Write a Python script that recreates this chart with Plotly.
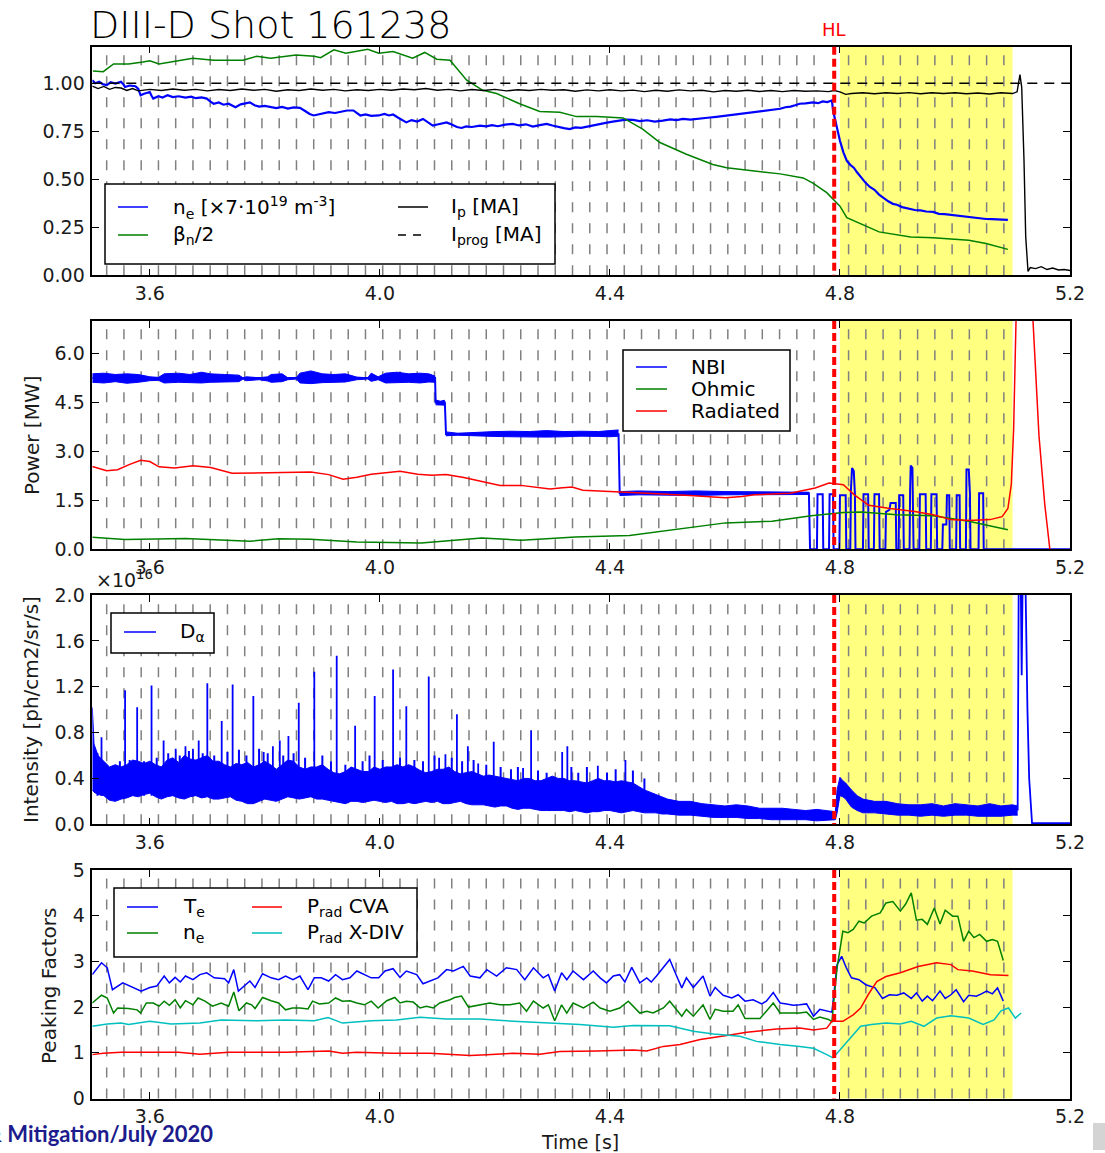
import plotly.graph_objects as go

W, H = 1105, 1153

# ----------------------------- DATA -----------------------------
X_TICKS = [3.6, 4.0, 4.4, 4.8, 5.2]
HL_TIME = 4.79
MITIGATION_WINDOW = (4.80, 5.10)
# Thomson / diagnostic time markers (grey dashed lines)
MARK_T = [3.525, 3.555, 3.585, 3.615, 3.645, 3.675, 3.705, 3.735, 3.765, 3.795,
          3.825, 3.855, 3.885, 3.915, 3.945, 3.975, 4.005, 4.035, 4.065, 4.095,
          4.125, 4.155, 4.185, 4.215, 4.245, 4.275, 4.305, 4.335, 4.365, 4.395,
          4.425, 4.455, 4.485, 4.515, 4.545, 4.575, 4.605, 4.635, 4.665, 4.695,
          4.725, 4.755, 4.815, 4.845, 4.875, 4.905, 4.935, 4.965, 4.995,
          5.025, 5.055, 5.085]

# Panel 1: ne [x7e19 m^-3], beta_n/2, Ip, Iprog
NE = [(3.500,1.016),(3.505,1.000),(3.512,1.008),(3.518,0.995),(3.525,0.990),(3.532,1.005),
      (3.540,0.998),(3.550,1.007),(3.555,0.990),(3.557,0.980),(3.565,0.988),(3.575,0.984),
      (3.580,0.970),(3.584,0.937),(3.590,0.945),(3.600,0.954),(3.603,0.935),(3.606,0.920),
      (3.615,0.932),(3.622,0.925),(3.631,0.937),(3.640,0.928),(3.650,0.932),(3.662,0.925),
      (3.672,0.930),(3.680,0.922),(3.690,0.926),(3.699,0.920),(3.705,0.905),(3.711,0.893),
      (3.720,0.900),(3.728,0.888),(3.737,0.893),(3.743,0.882),(3.749,0.875),(3.758,0.890),
      (3.766,0.895),(3.774,0.900),(3.782,0.885),(3.790,0.878),(3.800,0.882),(3.810,0.875),
      (3.820,0.870),(3.830,0.877),(3.840,0.868),(3.850,0.874),(3.861,0.872),(3.870,0.855),
      (3.878,0.840),(3.885,0.832),(3.893,0.838),(3.902,0.845),(3.911,0.849),(3.922,0.845),
      (3.932,0.852),(3.943,0.858),(3.954,0.858),(3.960,0.845),(3.966,0.832),(3.975,0.838),
      (3.985,0.830),(3.998,0.832),(4.008,0.840),(4.016,0.832),(4.023,0.837),(4.032,0.820),
      (4.040,0.805),(4.046,0.796),(4.055,0.808),(4.065,0.800),(4.075,0.814),(4.083,0.798),
      (4.092,0.779),(4.100,0.785),(4.108,0.790),(4.116,0.796),(4.125,0.785),(4.134,0.772),
      (4.142,0.767),(4.150,0.775),(4.160,0.772),(4.174,0.779),(4.185,0.775),(4.195,0.782),
      (4.205,0.776),(4.218,0.784),(4.231,0.788),(4.242,0.780),(4.254,0.786),(4.266,0.774),
      (4.278,0.782),(4.290,0.788),(4.300,0.780),(4.310,0.772),(4.320,0.766),(4.330,0.761),
      (4.340,0.770),(4.350,0.768),(4.359,0.774),(4.370,0.780),(4.383,0.788),(4.395,0.795),
      (4.405,0.800),(4.417,0.805),(4.428,0.810),(4.440,0.809),(4.452,0.803),(4.465,0.807),
      (4.478,0.800),(4.492,0.805),(4.505,0.812),(4.516,0.808),(4.527,0.814),(4.540,0.810),
      (4.557,0.814),(4.570,0.820),(4.585,0.825),(4.603,0.832),(4.615,0.836),(4.627,0.842),
      (4.638,0.845),(4.649,0.849),(4.660,0.855),(4.672,0.858),(4.684,0.862),(4.696,0.867),
      (4.705,0.875),(4.714,0.878),(4.722,0.885),(4.730,0.893),(4.740,0.895),(4.753,0.900),
      (4.762,0.896),(4.770,0.905),(4.778,0.902),(4.786,0.910),(4.788,0.858),(4.794,0.780),
      (4.800,0.700),(4.806,0.640),(4.812,0.595),(4.818,0.575),(4.824,0.560),(4.830,0.535),
      (4.837,0.507),(4.845,0.480),(4.852,0.460),(4.860,0.445),(4.868,0.420),(4.876,0.400),
      (4.884,0.385),(4.892,0.372),(4.899,0.367),(4.908,0.355),(4.918,0.348),(4.930,0.340),
      (4.940,0.338),(4.950,0.332),(4.962,0.330),(4.972,0.320),(4.982,0.318),(4.993,0.314),
      (5.003,0.310),(5.013,0.308),(5.024,0.305),(5.034,0.300),(5.044,0.297),(5.054,0.293),
      (5.064,0.292),(5.074,0.290),(5.083,0.290),(5.092,0.288)]
BETA = [(3.501,1.063),(3.519,1.060),(3.537,1.100),(3.563,1.100),(3.588,1.110),(3.600,1.117),
        (3.616,1.100),(3.637,1.110),(3.675,1.130),(3.711,1.120),(3.762,1.120),(3.786,1.140),
        (3.810,1.130),(3.854,1.147),(3.886,1.140),(3.897,1.133),(3.920,1.174),(3.941,1.156),
        (3.979,1.177),(3.998,1.156),(4.023,1.165),(4.057,1.130),(4.078,1.160),(4.099,1.125),
        (4.122,1.120),(4.151,1.016),(4.179,0.963),(4.203,0.946),(4.243,0.893),(4.278,0.853),
        (4.313,0.849),(4.342,0.826),(4.377,0.826),(4.423,0.819),(4.457,0.761),(4.487,0.691),
        (4.533,0.630),(4.579,0.577),(4.603,0.560),(4.666,0.538),(4.696,0.528),(4.736,0.507),
        (4.753,0.480),(4.777,0.430),(4.800,0.360),(4.812,0.300),(4.868,0.226),(4.923,0.200),
        (4.962,0.195),(5.024,0.182),(5.054,0.165),(5.092,0.135)]
IP = [(3.50,0.985),(3.51,0.972),(3.52,0.983),(3.53,0.968),(3.54,0.978),(3.55,0.975),(3.56,0.962),
      (3.57,0.972),(3.58,0.960),(3.60,0.968),(3.62,0.962),(3.64,0.970),(3.66,0.963),(3.68,0.968),
      (3.70,0.960),(3.72,0.967),(3.74,0.962),(3.76,0.970),(3.78,0.963),(3.80,0.968),(3.82,0.958),
      (3.84,0.966),(3.86,0.962),(3.88,0.970),(3.90,0.963),(3.92,0.968),(3.94,0.960),(3.96,0.966),
      (3.98,0.962),(4.00,0.968),(4.02,0.963),(4.04,0.970),(4.06,0.966),(4.08,0.972),(4.10,0.963),
      (4.12,0.968),(4.14,0.960),(4.16,0.967),(4.18,0.962),(4.20,0.968),(4.22,0.960),(4.24,0.966),
      (4.26,0.962),(4.28,0.968),(4.30,0.963),(4.32,0.966),(4.34,0.958),(4.36,0.965),(4.38,0.960),
      (4.40,0.966),(4.42,0.960),(4.44,0.964),(4.46,0.956),(4.48,0.963),(4.50,0.958),(4.52,0.965),
      (4.54,0.960),(4.56,0.963),(4.58,0.955),(4.60,0.962),(4.62,0.958),(4.64,0.963),(4.66,0.957),
      (4.68,0.962),(4.70,0.956),(4.72,0.962),(4.74,0.958),(4.76,0.960),(4.78,0.956),(4.79,0.962),
      (4.80,0.955),(4.81,0.942),(4.82,0.946),(4.84,0.950),(4.86,0.945),(4.88,0.950),(4.90,0.946),
      (4.92,0.951),(4.94,0.945),(4.96,0.950),(4.98,0.946),(5.00,0.950),(5.02,0.945),(5.04,0.949),
      (5.06,0.944),(5.08,0.950),(5.10,0.946),(5.108,0.955),(5.113,1.045),(5.116,0.980),
      (5.120,0.600),(5.123,0.200),(5.127,0.020),(5.131,0.040),(5.14,0.035),(5.15,0.045),
      (5.16,0.030),(5.17,0.038),(5.18,0.028),(5.19,0.030),(5.20,0.025)]
IPROG = [(3.50,1.0),(5.20,1.0)]

# Panel 2: Power [MW]
NBI = [(3.500,5.25),(4.096,5.25),(4.097,4.50),(4.113,4.50),(4.115,3.53),(4.415,3.53),(4.417,1.72),
       (4.746,1.72),(4.748,0.0),(4.760,0.0),(4.761,1.69),(4.770,1.69),(4.771,0.0),(4.781,0.0),
       (4.782,1.69),(4.788,1.69),(4.789,0.0),(4.799,0.0),(4.800,1.66),(4.810,1.66),(4.811,0.0),
       (4.818,0.0),(4.819,1.80),(4.821,2.49),(4.824,2.40),(4.826,1.70),(4.827,0.0),(4.840,0.0),
       (4.841,1.69),(4.849,1.69),(4.850,0.0),(4.859,0.0),(4.860,1.69),(4.868,1.69),(4.869,0.0),
       (4.879,0.0),(4.880,1.15),(4.886,1.21),(4.888,1.42),(4.897,1.42),(4.898,0.0),(4.902,0.0),
       (4.903,1.66),(4.910,1.66),(4.911,0.0),(4.921,0.0),(4.922,1.80),(4.923,2.57),(4.926,2.50),
       (4.927,1.66),(4.928,0.0),(4.938,0.0),(4.939,1.69),(4.949,1.69),(4.950,0.0),(4.958,0.0),
       (4.959,1.69),(4.968,1.69),(4.969,0.0),(4.978,0.0),(4.979,0.76),(4.985,0.76),(4.986,1.66),
       (4.990,1.66),(4.991,0.0),(5.002,0.0),(5.003,1.66),(5.008,1.66),(5.009,0.0),(5.019,0.0),
       (5.020,2.45),(5.024,2.45),(5.026,1.70),(5.027,0.0),(5.041,0.0),(5.042,1.72),(5.049,1.72),
       (5.050,0.0),(5.200,0.0)]
# NBI fluctuation envelopes (t, low, high)
NBI_BAND_1 = [(3.500,5.12,5.38),(3.520,5.10,5.40),(3.540,5.14,5.36),(3.560,5.09,5.38),(3.580,5.12,5.36),
              (3.600,5.17,5.29),(3.615,5.18,5.27),(3.625,5.10,5.38),(3.650,5.12,5.40),(3.670,5.11,5.36),
              (3.690,5.10,5.43),(3.705,5.12,5.38),(3.730,5.12,5.36),(3.755,5.14,5.34),(3.762,5.22,5.26),
              (3.768,5.17,5.29),(3.790,5.20,5.26),(3.805,5.16,5.29),(3.811,5.12,5.36),(3.830,5.14,5.38),
              (3.840,5.20,5.26),(3.855,5.22,5.27),(3.861,5.10,5.40),(3.880,5.08,5.47),(3.900,5.11,5.38),
              (3.920,5.12,5.36),(3.940,5.13,5.38),(3.960,5.20,5.28),(3.979,5.22,5.26),(3.985,5.15,5.40),
              (3.997,5.20,5.29),(4.010,5.10,5.40),(4.030,5.11,5.43),(4.050,5.12,5.38),(4.070,5.10,5.40),
              (4.085,5.13,5.38),(4.096,5.12,5.31)]
NBI_BAND_2 = [(4.097,4.43,4.58),(4.105,4.42,4.54),(4.113,4.42,4.57)]
NBI_BAND_3 = [(4.115,3.48,3.60),(4.125,3.49,3.57),(4.135,3.50,3.56),(4.150,3.49,3.57),(4.170,3.47,3.59),
              (4.200,3.46,3.61),(4.230,3.45,3.62),(4.260,3.44,3.61),(4.290,3.44,3.64),(4.320,3.45,3.61),
              (4.350,3.47,3.62),(4.380,3.46,3.61),(4.400,3.45,3.64),(4.415,3.47,3.66)]
NBI_BAND_4 = [(4.417,1.65,1.77),(4.450,1.67,1.79),(4.500,1.66,1.77),(4.550,1.65,1.79),(4.600,1.67,1.77),
              (4.650,1.68,1.76),(4.700,1.68,1.76),(4.746,1.68,1.75)]
OHMIC = [(3.500,0.37),(3.557,0.30),(3.662,0.33),(3.774,0.25),(3.824,0.32),(3.879,0.31),(3.960,0.22),
         (4.072,0.19),(4.177,0.35),(4.246,0.28),(4.290,0.32),(4.340,0.38),(4.434,0.42),(4.527,0.65),
         (4.601,0.81),(4.682,0.86),(4.750,1.03),(4.806,1.13),(4.837,1.14),(4.899,1.06),(4.962,1.03),
         (5.024,0.86),(5.092,0.60)]
RADIATED = [(3.500,2.54),(3.525,2.41),(3.544,2.44),(3.563,2.59),(3.584,2.73),(3.600,2.69),(3.616,2.53),
            (3.643,2.49),(3.675,2.56),(3.706,2.51),(3.743,2.33),(3.774,2.34),(3.836,2.34),(3.880,2.37),
            (3.911,2.29),(3.936,2.15),(3.960,2.21),(3.985,2.30),(4.035,2.39),(4.066,2.30),(4.090,2.27),
            (4.115,2.29),(4.146,2.20),(4.177,2.08),(4.209,1.96),(4.245,1.96),(4.271,1.91),(4.296,1.85),
            (4.313,1.88),(4.334,1.91),(4.353,1.81),(4.402,1.78),(4.465,1.72),(4.539,1.65),(4.575,1.60),
            (4.601,1.58),(4.630,1.62),(4.651,1.67),(4.713,1.72),(4.757,1.88),(4.781,2.03),(4.792,2.00),
            (4.806,1.98),(4.825,1.67),(4.850,1.35),(4.887,1.25),(4.930,1.16),(4.962,1.06),(4.993,0.91),
            (5.024,0.88),(5.061,0.91),(5.082,1.00),(5.092,1.25),(5.098,2.00),(5.102,3.70),(5.106,6.90),
            (5.120,14.0),(5.136,6.90),(5.146,3.50),(5.156,1.40),(5.165,0.0)]

# Panel 3: D-alpha intensity [1e16 ph/cm2/sr/s]
DA_BAND = [(3.500,0.30,1.02),(3.503,0.28,0.70),(3.510,0.26,0.60),(3.520,0.25,0.55),(3.530,0.21,0.50),
           (3.540,0.20,0.52),(3.550,0.22,0.50),(3.560,0.23,0.52),(3.570,0.25,0.56),(3.580,0.24,0.55),
           (3.590,0.26,0.53),(3.600,0.27,0.55),(3.610,0.24,0.52),(3.620,0.22,0.50),(3.630,0.24,0.56),
           (3.640,0.25,0.58),(3.650,0.23,0.54),(3.660,0.22,0.60),(3.670,0.24,0.57),(3.680,0.25,0.56),
           (3.690,0.23,0.58),(3.700,0.24,0.60),(3.710,0.22,0.55),(3.720,0.22,0.55),(3.730,0.23,0.52),
           (3.740,0.24,0.50),(3.750,0.21,0.53),(3.760,0.20,0.52),(3.770,0.18,0.54),(3.780,0.18,0.50),
           (3.790,0.20,0.52),(3.800,0.22,0.55),(3.810,0.21,0.52),(3.820,0.20,0.48),(3.830,0.22,0.52),
           (3.840,0.24,0.56),(3.850,0.23,0.55),(3.860,0.22,0.50),(3.870,0.23,0.48),(3.880,0.24,0.50),
           (3.890,0.22,0.50),(3.900,0.22,0.52),(3.910,0.21,0.48),(3.920,0.20,0.45),(3.930,0.19,0.44),
           (3.940,0.18,0.46),(3.950,0.20,0.50),(3.960,0.20,0.48),(3.970,0.19,0.46),(3.980,0.20,0.46),
           (3.990,0.21,0.50),(4.000,0.20,0.48),(4.010,0.19,0.50),(4.020,0.20,0.50),(4.030,0.18,0.52),
           (4.040,0.18,0.50),(4.050,0.19,0.52),(4.060,0.18,0.50),(4.070,0.19,0.47),(4.080,0.20,0.45),
           (4.090,0.19,0.46),(4.100,0.20,0.48),(4.110,0.18,0.48),(4.120,0.18,0.50),(4.130,0.19,0.46),
           (4.140,0.20,0.44),(4.150,0.18,0.45),(4.160,0.17,0.46),(4.170,0.17,0.44),(4.180,0.17,0.42),
           (4.190,0.16,0.43),(4.200,0.15,0.42),(4.210,0.16,0.41),(4.220,0.16,0.40),(4.230,0.14,0.39),
           (4.240,0.13,0.38),(4.250,0.14,0.40),(4.260,0.14,0.40),(4.270,0.13,0.38),(4.280,0.12,0.38),
           (4.290,0.12,0.40),(4.300,0.12,0.42),(4.310,0.12,0.40),(4.320,0.12,0.40),(4.330,0.11,0.38),
           (4.340,0.12,0.38),(4.350,0.11,0.37),(4.360,0.10,0.36),(4.370,0.11,0.38),(4.380,0.11,0.40),
           (4.390,0.12,0.38),(4.400,0.12,0.38),(4.410,0.11,0.37),(4.420,0.10,0.38),(4.430,0.11,0.37),
           (4.440,0.12,0.36),(4.450,0.11,0.33),(4.460,0.10,0.30),(4.470,0.10,0.28),(4.480,0.10,0.26),
           (4.490,0.09,0.24),(4.500,0.09,0.22),(4.520,0.08,0.20),(4.540,0.08,0.20),(4.560,0.07,0.18),
           (4.580,0.06,0.17),(4.600,0.06,0.16),(4.620,0.06,0.17),(4.640,0.05,0.16),(4.660,0.05,0.14),
           (4.680,0.04,0.14),(4.700,0.04,0.14),(4.720,0.04,0.13),(4.740,0.04,0.12),(4.760,0.03,0.13),
           (4.780,0.04,0.12),(4.792,0.04,0.11),(4.795,0.10,0.30),(4.800,0.25,0.41),(4.805,0.24,0.38),
           (4.810,0.22,0.36),(4.820,0.15,0.30),(4.830,0.12,0.25),(4.840,0.10,0.22),(4.860,0.10,0.20),
           (4.880,0.09,0.20),(4.900,0.08,0.18),(4.920,0.08,0.17),(4.940,0.07,0.17),(4.960,0.08,0.18),
           (4.980,0.07,0.16),(5.000,0.08,0.18),(5.020,0.08,0.17),(5.040,0.07,0.16),(5.060,0.07,0.18),
           (5.080,0.07,0.16),(5.100,0.08,0.17),(5.109,0.08,0.16)]
# large ELM spikes
DA_SPIKE_T = [3.516, 3.557, 3.578, 3.603, 3.624, 3.645, 3.662, 3.675, 3.685, 3.700, 3.725, 3.744,
              3.780, 3.798, 3.814, 3.826, 3.841, 3.859, 3.886, 3.925, 3.957, 3.991, 4.023, 4.046,
              4.085, 4.103, 4.114, 4.134, 4.153, 4.171, 4.198, 4.249, 4.263, 4.303, 4.317, 4.326,
              4.379, 4.427]
DA_SPIKE_PEAK = [0.76, 1.17, 1.02, 1.21, 0.73, 0.66, 0.68, 0.66, 0.73, 1.23, 0.90, 1.22,
                 1.12, 0.63, 0.68, 0.73, 0.77, 1.06, 1.33, 1.47, 0.86, 1.12, 1.35, 1.03,
                 1.29, 0.58, 0.61, 0.96, 0.68, 0.53, 0.72, 0.49, 0.82, 0.41, 0.63, 0.68,
                 0.51, 0.56]
# small spikes on top of the fluctuation band
DA_SMALL_T = [3.509, 3.535, 3.548, 3.565, 3.590, 3.612, 3.632, 3.652, 3.668, 3.692, 3.712, 3.735,
              3.755, 3.768, 3.790, 3.805, 3.832, 3.850, 3.870, 3.900, 3.915, 3.940, 3.970, 3.982,
              4.005, 4.035, 4.060, 4.075, 4.095, 4.125, 4.143, 4.163, 4.185, 4.210, 4.228, 4.240,
              4.275, 4.290, 4.333, 4.345, 4.360, 4.395, 4.410, 4.440, 4.460]
DA_SMALL_PEAK = [0.62, 0.50, 0.55, 0.56, 0.55, 0.58, 0.62, 0.60, 0.64, 0.62, 0.60, 0.63,
                 0.65, 0.60, 0.66, 0.62, 0.60, 0.62, 0.58, 0.60, 0.55, 0.52, 0.55, 0.60,
                 0.56, 0.58, 0.56, 0.55, 0.60, 0.58, 0.55, 0.56, 0.52, 0.50, 0.48, 0.50,
                 0.47, 0.45, 0.50, 0.45, 0.50, 0.45, 0.48, 0.47, 0.40]
DA_SPIKE_BASE = 0.25
DA_END = [(5.109,0.12),(5.111,2.3),(5.114,2.3),(5.116,1.3),(5.118,2.3),(5.122,2.3),(5.126,1.0),
          (5.129,0.4),(5.134,0.01),(5.200,0.01)]

# Panel 4: peaking factors
TE = [(3.500,2.71),(3.516,2.97),(3.526,2.86),(3.535,2.38),(3.553,2.53),(3.585,2.35),(3.600,2.43),
      (3.612,2.46),(3.625,2.68),(3.634,2.53),(3.644,2.65),(3.653,2.55),(3.662,2.68),(3.675,2.60),
      (3.687,2.71),(3.699,2.75),(3.712,2.64),(3.730,2.62),(3.737,2.53),(3.746,2.82),(3.754,2.35),
      (3.768,2.50),(3.774,2.57),(3.783,2.43),(3.796,2.73),(3.811,2.64),(3.824,2.60),(3.836,2.68),
      (3.849,2.60),(3.861,2.68),(3.875,2.38),(3.886,2.64),(3.898,2.64),(3.911,2.57),(3.923,2.71),
      (3.935,2.60),(3.948,2.64),(3.960,2.79),(3.973,2.71),(3.985,2.64),(3.998,2.64),(4.009,2.79),
      (4.023,2.84),(4.035,2.65),(4.046,2.79),(4.058,2.73),(4.064,2.71),(4.075,2.51),(4.093,2.60),
      (4.101,2.64),(4.116,2.82),(4.128,2.79),(4.145,2.89),(4.157,2.68),(4.174,2.64),(4.186,2.82),
      (4.203,2.68),(4.220,2.86),(4.238,2.82),(4.252,2.60),(4.267,2.86),(4.284,2.64),(4.293,2.71),
      (4.304,2.35),(4.316,2.75),(4.325,2.60),(4.336,2.79),(4.354,2.60),(4.371,2.79),(4.383,2.64),
      (4.394,2.53),(4.406,2.68),(4.417,2.71),(4.426,2.55),(4.438,2.87),(4.452,2.53),(4.464,2.64),
      (4.472,2.55),(4.481,2.68),(4.493,2.87),(4.504,3.04),(4.516,2.68),(4.525,2.42),(4.533,2.64),
      (4.545,2.43),(4.562,2.68),(4.574,2.24),(4.583,2.43),(4.597,2.26),(4.612,2.20),(4.623,2.27),
      (4.635,2.13),(4.649,2.16),(4.664,2.07),(4.672,2.13),(4.684,2.32),(4.696,2.09),(4.707,2.07),
      (4.719,2.04),(4.730,2.05),(4.742,2.07),(4.754,1.80),(4.765,1.95),(4.786,1.89),(4.795,2.93),
      (4.803,3.11),(4.811,2.86),(4.820,2.64),(4.833,2.60),(4.845,2.49),(4.861,2.42),(4.874,2.19),
      (4.886,2.27),(4.899,2.26),(4.911,2.31),(4.924,2.19),(4.933,2.31),(4.943,2.13),(4.952,2.24),
      (4.961,2.14),(4.974,2.35),(4.983,2.19),(4.993,2.27),(5.002,2.38),(5.015,2.12),(5.024,2.26),
      (5.037,2.24),(5.046,2.29),(5.055,2.35),(5.065,2.29),(5.074,2.42),(5.084,2.13)]
NE_PF = [(3.500,2.09),(3.516,2.26),(3.526,2.20),(3.537,1.87),(3.544,1.98),(3.563,1.97),(3.578,1.94),
         (3.584,1.87),(3.594,2.09),(3.606,2.09),(3.616,2.02),(3.625,2.13),(3.634,2.04),(3.644,2.16),
         (3.653,1.98),(3.662,2.14),(3.675,2.05),(3.684,2.20),(3.696,2.13),(3.709,2.02),(3.724,2.09),
         (3.737,2.02),(3.746,2.33),(3.755,1.92),(3.768,2.09),(3.777,2.05),(3.783,1.97),(3.796,2.21),
         (3.811,2.14),(3.824,2.09),(3.836,1.94),(3.848,1.98),(3.861,1.98),(3.875,1.96),(3.883,2.13),
         (3.895,2.07),(3.911,2.09),(3.923,2.20),(3.935,2.13),(3.948,2.14),(3.960,2.09),(3.973,2.05),
         (3.985,2.13),(3.997,1.98),(4.012,2.14),(4.026,2.21),(4.035,2.09),(4.046,2.13),(4.058,2.11),
         (4.070,1.98),(4.081,2.02),(4.093,1.98),(4.104,2.09),(4.122,2.16),(4.130,2.21),(4.142,2.24),
         (4.154,2.00),(4.174,2.04),(4.191,2.09),(4.209,2.05),(4.226,2.05),(4.243,2.09),(4.255,1.91),
         (4.267,2.13),(4.284,1.98),(4.293,2.05),(4.304,1.70),(4.316,2.05),(4.325,1.87),(4.336,2.09),
         (4.354,1.98),(4.371,2.11),(4.383,1.98),(4.400,1.91),(4.417,1.98),(4.432,2.13),(4.452,1.87),
         (4.464,1.91),(4.475,1.87),(4.493,1.98),(4.504,2.13),(4.525,1.80),(4.533,1.95),(4.545,1.80),
         (4.562,2.05),(4.574,1.73),(4.583,1.95),(4.597,1.91),(4.614,1.91),(4.623,2.05),(4.635,1.75),
         (4.649,1.75),(4.661,1.75),(4.672,1.91),(4.684,2.09),(4.696,1.87),(4.713,1.87),(4.730,1.87),
         (4.742,1.89),(4.754,1.73),(4.765,1.78),(4.780,1.73),(4.786,1.68),(4.795,2.86),(4.805,3.66),
         (4.814,3.63),(4.823,3.70),(4.833,3.88),(4.842,3.84),(4.855,3.99),(4.870,4.06),(4.880,4.28),
         (4.892,4.31),(4.905,4.10),(4.914,4.25),(4.924,4.50),(4.933,3.90),(4.943,3.92),(4.952,3.81),
         (4.964,4.17),(4.974,3.82),(4.983,4.12),(4.996,3.99),(5.005,3.99),(5.015,3.44),(5.024,3.66),
         (5.033,3.52),(5.043,3.59),(5.055,3.44),(5.065,3.48),(5.074,3.44),(5.084,3.02)]
PRAD_CVA = [(3.500,0.96),(3.519,0.99),(3.550,1.01),(3.587,1.01),(3.650,1.01),(3.687,0.97),(3.737,1.01),
            (3.805,1.01),(3.836,1.01),(3.911,1.04),(3.935,0.99),(3.960,1.01),(4.022,0.99),(4.087,0.99),
            (4.157,0.94),(4.186,0.96),(4.232,0.99),(4.278,0.97),(4.313,1.03),(4.377,1.04),(4.441,1.06),
            (4.464,1.04),(4.493,1.14),(4.522,1.18),(4.557,1.29),(4.603,1.38),(4.638,1.45),(4.690,1.52),
            (4.730,1.54),(4.754,1.50),(4.777,1.54),(4.786,1.69),(4.805,1.69),(4.823,1.83),(4.836,1.98),
            (4.849,2.27),(4.864,2.56),(4.880,2.67),(4.905,2.75),(4.936,2.89),(4.968,2.97),(4.993,2.93),
            (5.005,2.82),(5.030,2.79),(5.062,2.71),(5.093,2.69)]
PRAD_XDIV = [(3.500,1.58),(3.526,1.63),(3.550,1.65),(3.563,1.62),(3.600,1.69),(3.637,1.63),(3.687,1.65),
             (3.724,1.72),(3.786,1.70),(3.836,1.72),(3.886,1.70),(3.910,1.77),(3.935,1.65),(3.985,1.70),
             (4.029,1.72),(4.070,1.78),(4.116,1.74),(4.174,1.74),(4.232,1.69),(4.290,1.65),(4.348,1.62),
             (4.406,1.56),(4.441,1.60),(4.504,1.59),(4.545,1.47),(4.580,1.41),(4.626,1.36),(4.655,1.25),
             (4.696,1.18),(4.730,1.14),(4.754,1.10),(4.777,0.96),(4.788,0.89),(4.795,0.99),(4.817,1.32),
             (4.836,1.58),(4.855,1.62),(4.880,1.65),(4.905,1.63),(4.924,1.69),(4.946,1.58),(4.968,1.76),
             (4.993,1.81),(5.024,1.76),(5.049,1.62),(5.068,1.72),(5.080,1.92),(5.093,1.98),(5.105,1.76),
             (5.115,1.87)]

# ----------------------------- STYLE -----------------------------
BLUE, GREEN, RED, CYAN, BLACK = '#0000ff', '#008000', '#ff0000', '#00bfbf', '#000000'
FONT = 'DejaVu Sans'
AX = ['', '2', '3', '4']
FRAME_X = (92.3, 1070.0)
PANEL_Y = [(46.7, 275.3), (321.0, 549.3), (595.0, 824.3), (870.0, 1098.5)]
Y_RANGES = [[0, 1.19], [0, 7.0], [0, 2.0], [0, 5.0]]
Y_TICKS = [[0, 0.25, 0.5, 0.75, 1.0], [0, 1.5, 3.0, 4.5, 6.0],
           [0, 0.4, 0.8, 1.2, 1.6, 2.0], [0, 1, 2, 3, 4, 5]]
Y_FMT = ['.2f', '.1f', '.1f', '.0f']


def px(x):
    return x / W


def py(y):
    return 1 - y / H


fig = go.Figure()


def cols(pts, i):
    return [p[i] for p in pts]


def add_line(pts, color, width, ax, dash=None):
    fig.add_trace(go.Scatter(x=cols(pts, 0), y=cols(pts, 1), mode='lines',
                             line=dict(color=color, width=width, dash=dash),
                             xaxis='x' + ax, yaxis='y' + ax, showlegend=False,
                             hoverinfo='skip'))


def add_band(pts, color, ax, width=1.0):
    t = cols(pts, 0)
    fig.add_trace(go.Scatter(x=t, y=cols(pts, 1), mode='lines',
                             line=dict(color=color, width=width),
                             xaxis='x' + ax, yaxis='y' + ax, showlegend=False, hoverinfo='skip'))
    fig.add_trace(go.Scatter(x=t, y=cols(pts, 2), mode='lines', fill='tonexty', fillcolor=color,
                             line=dict(color=color, width=width),
                             xaxis='x' + ax, yaxis='y' + ax, showlegend=False, hoverinfo='skip'))


def add_spikes(ts, peaks, base, color, width, ax):
    sx, sy = [], []
    for t, p in zip(ts, peaks):
        sx += [t, t, None]
        sy += [base, p, None]
    fig.add_trace(go.Scatter(x=sx, y=sy, mode='lines', line=dict(color=color, width=width),
                             xaxis='x' + ax, yaxis='y' + ax, showlegend=False, hoverinfo='skip'))


# Panel 1
add_line(NE, BLUE, 2.2, '')
add_line(BETA, GREEN, 1.5, '')
add_line(IP, BLACK, 1.4, '')
add_line(IPROG, BLACK, 1.5, '', dash='10px,7px')

# Panel 2
for b in (NBI_BAND_1, NBI_BAND_2, NBI_BAND_3, NBI_BAND_4):
    add_band(b, BLUE, '2')
add_line(NBI, BLUE, 2.0, '2')
add_line(OHMIC, GREEN, 1.5, '2')
add_line(RADIATED, RED, 1.5, '2')

# Panel 3
add_band(DA_BAND, BLUE, '3')
add_spikes(DA_SMALL_T, DA_SMALL_PEAK, DA_SPIKE_BASE, BLUE, 2.0, '3')
add_spikes(DA_SPIKE_T, DA_SPIKE_PEAK, DA_SPIKE_BASE, BLUE, 1.8, '3')
add_line(DA_END, BLUE, 1.8, '3')

# Panel 4
add_line(TE, BLUE, 1.5, '4')
add_line(NE_PF, GREEN, 1.5, '4')
add_line(PRAD_CVA, RED, 1.5, '4')
add_line(PRAD_XDIV, CYAN, 1.5, '4')

# ----------------------------- AXES -----------------------------
common = dict(showline=True, linecolor='black', linewidth=1.5, mirror='ticks',
              ticks='inside', ticklen=7, tickwidth=1.2, tickcolor='black',
              showgrid=False, zeroline=False, automargin=False, fixedrange=True,
              tickfont=dict(family=FONT, size=19, color='#1a1a1a'))
layout_axes = {}
for i, ax in enumerate(AX):
    top, bot = PANEL_Y[i]
    layout_axes['xaxis' + ax] = dict(domain=[px(FRAME_X[0]), px(FRAME_X[1])], range=[3.5, 5.2],
                                     tickvals=X_TICKS, tickformat='.1f', anchor='y' + ax,
                                     ticklabelstandoff=0, **common)
    layout_axes['yaxis' + ax] = dict(domain=[py(bot), py(top)], range=Y_RANGES[i],
                                     tickvals=Y_TICKS[i], tickformat=Y_FMT[i], anchor='x' + ax,
                                     ticklabelstandoff=2, **common)

# ----------------------------- SHAPES -----------------------------
shapes = []
for ax in AX:
    yref = ('y' + ax + ' domain')
    shapes.append(dict(type='rect', xref='x' + ax, yref=yref, x0=MITIGATION_WINDOW[0],
                       x1=MITIGATION_WINDOW[1], y0=0, y1=1, fillcolor='#ffff80',
                       line=dict(width=0), layer='below'))
for ax in AX:
    yref = ('y' + ax + ' domain')
    for t in MARK_T:
        shapes.append(dict(type='line', xref='x' + ax, yref=yref, x0=t, x1=t, y0=0, y1=1,
                           line=dict(color='#808080', width=1.5, dash='10px,11px'), layer='below'))
for ax in AX:
    yref = ('y' + ax + ' domain')
    shapes.append(dict(type='line', xref='x' + ax, yref=yref, x0=HL_TIME, x1=HL_TIME, y0=1, y1=0,
                       line=dict(color='#ff0000', width=4, dash='8px,4px'), layer='above'))

annotations = []


def legend_box(x0, y0, x1, y1):
    shapes.append(dict(type='rect', xref='paper', yref='paper', x0=px(x0), x1=px(x1),
                       y0=py(y1), y1=py(y0), fillcolor='white',
                       line=dict(color='black', width=1.5), layer='above'))


def legend_item(lx0, lx1, y, color, text, tx, dash=None, size=20):
    shapes.append(dict(type='line', xref='paper', yref='paper', x0=px(lx0), x1=px(lx1),
                       y0=py(y), y1=py(y), line=dict(color=color, width=1.5, dash=dash),
                       layer='above'))
    annotations.append(dict(xref='paper', yref='paper', x=px(tx), y=py(y), text=text,
                            showarrow=False, xanchor='left', yanchor='middle',
                            font=dict(family=FONT, size=size, color='black')))


# Panel 1 legend
legend_box(105, 184, 555, 264)
legend_item(118, 148, 207, BLUE, 'n<sub>e</sub> [×7·10<sup>19</sup> m<sup>-3</sup>]', 171)
legend_item(118, 148, 235, GREEN, 'β<sub>n</sub>/2', 171)
legend_item(398, 428, 207, BLACK, 'I<sub>p</sub> [MA]', 449)
legend_item(398, 428, 235, BLACK, 'I<sub>prog</sub> [MA]', 449, dash='8px,7px')
# Panel 2 legend
legend_box(623, 350, 790, 431)
legend_item(636, 667, 367, BLUE, 'NBI', 689)
legend_item(636, 667, 389, GREEN, 'Ohmic', 689)
legend_item(636, 667, 411, RED, 'Radiated', 689)
# Panel 3 legend
legend_box(111, 613, 214, 653)
legend_item(124, 156, 632, BLUE, 'D<sub>α</sub>', 178)
# Panel 4 legend
legend_box(114, 888, 417, 957)
legend_item(127, 158, 907, BLUE, 'T<sub>e</sub>', 181)
legend_item(127, 158, 933, GREEN, 'n<sub>e</sub>', 181)
legend_item(252, 282, 907, RED, 'P<sub>rad</sub> CVA', 305)
legend_item(252, 282, 933, CYAN, 'P<sub>rad</sub> X-DIV', 305)

# gray UI artifact, bottom right
shapes.append(dict(type='rect', xref='paper', yref='paper', x0=px(1093), x1=px(1106),
                   y0=py(1150), y1=py(1123), fillcolor='#d4d4d4', line=dict(width=0),
                   layer='above'))

# ----------------------------- TEXT -----------------------------
annotations += [
    dict(xref='paper', yref='paper', x=px(88), y=py(25), xanchor='left', yanchor='middle',
         text='DIII-D Shot 161238', showarrow=False,
         font=dict(family='DejaVu Sans', size=38, color='black', weight=300)),
    dict(xref='x', yref='paper', x=HL_TIME, y=py(30), xanchor='center', yanchor='middle',
         text='HL', showarrow=False, font=dict(family=FONT, size=18, color='#ff0000')),
    dict(xref='paper', yref='paper', x=px(32), y=py(436), text='Power [MW]', textangle=-90,
         showarrow=False, xanchor='center', yanchor='middle',
         font=dict(family=FONT, size=20, color='#1a1a1a')),
    dict(xref='paper', yref='paper', x=px(31), y=py(710), text='Intensity [ph/cm2/sr/s]',
         textangle=-90, showarrow=False, xanchor='center', yanchor='middle',
         font=dict(family=FONT, size=20, color='#1a1a1a')),
    dict(xref='paper', yref='paper', x=px(49), y=py(986), text='Peaking Factors', textangle=-90,
         showarrow=False, xanchor='center', yanchor='middle',
         font=dict(family=FONT, size=20, color='#1a1a1a')),
    dict(xref='paper', yref='paper', x=px(94), y=py(579), text='×10<sup>16</sup>',
         showarrow=False, xanchor='left', yanchor='middle',
         font=dict(family=FONT, size=19, color='#1a1a1a')),
    dict(xref='paper', yref='paper', x=px(580), y=py(1142), text='Time [s]', showarrow=False,
         xanchor='center', yanchor='middle', font=dict(family=FONT, size=19, color='#1a1a1a')),
    dict(xref='paper', yref='paper', x=px(215), y=py(1133), text='& Mitigation/July 2020',
         showarrow=False, xanchor='right', yanchor='middle',
         font=dict(family='Lato', size=22, color='#1c1c8c', weight='bold')),
]

fig.update_layout(width=W, height=H, margin=dict(l=0, r=0, t=0, b=0),
                  plot_bgcolor='white', paper_bgcolor='white', showlegend=False,
                  shapes=shapes, annotations=annotations, **layout_axes)

fig.write_html("out.html")
